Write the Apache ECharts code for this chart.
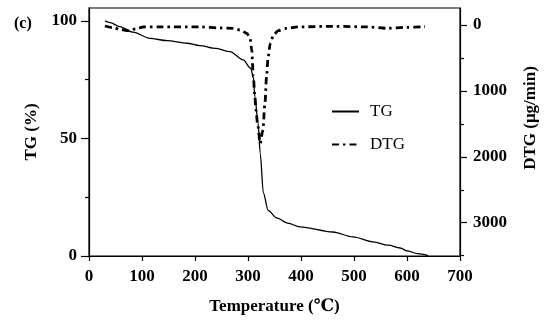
<!DOCTYPE html>
<html><head><meta charset="utf-8">
<script src="https://cdn.jsdelivr.net/npm/echarts@6/dist/echarts.min.js"></script>
<style>html,body{margin:0;padding:0;background:#fff}#c{width:550px;height:325px}</style>
</head><body><div id="c"></div>
<script>
const tgTemps  = [30,40,58,83,115,147,185,209,240,266,291,305,310,313,319,323,329,338,354,375,398,460,498,536,565,587,600,620,640];
const tgValues = [100,99.3,97.6,95.2,92.6,91.6,90.5,89.5,88.3,86.9,83.4,79.9,76.3,67.8,56.5,43.8,26.8,19.4,16.2,14.0,12.4,10.2,8.1,6.0,4.6,3.4,2.2,1.0,0.2];
const dtgTemps  = [30,45,60,74,90,102,134,209,247,272,285,298,304,307,310,313,315,318,323,328,332,335,338,342,348,357,373,394,460,525,562,600,634];
const dtgValues = [15,40,70,85,55,30,28,28,45,50,76,126,210,379,784,1088,1290,1491,1795,1600,1188,784,481,278,152,86,50,28,20,28,50,35,25];
const xTicks = [0,100,200,300,400,500,600,700];
const tgMajor = [0,50,100], tgMinor = [25,75];
const dtgMajor = [0,1000,2000,3000], dtgMinor = [500,1500,2500,3500];

const serif = '"Liberation Serif","DejaVu Serif",serif';
const chart = echarts.init(document.getElementById('c'));
const lab = {fontFamily: serif, fontWeight: 'bold', fontSize: 17, color: '#000', formatter: v => String(v)};
chart.setOption({
  animation: false,
  grid: {left: 89, right: 90, top: 8, bottom: 69, show: true, borderColor: '#000', borderWidth: 1.2},
  title: {text: '(c)', left: 9, top: 11, textStyle: {fontFamily: serif, fontWeight: 'bold', fontSize: 16, color: '#000'}},
  legend: {
    orient: 'vertical', left: 326, top: 98, itemWidth: 27, itemHeight: 14, itemGap: 16,
    itemStyle: {opacity: 0},
    textStyle: {fontFamily: serif, fontSize: 17, color: '#000', padding: [0,0,0,6]},
    data: ['TG','DTG']
  },
  xAxis: {
    type: 'value', min: 0, max: 700, interval: 100,
    name: 'Temperature (℃)', nameLocation: 'middle', nameGap: 42,
    nameTextStyle: {fontFamily: serif, fontWeight: 'bold', fontSize: 17, color: '#000'},
    axisLine: {lineStyle: {color: '#000', width: 1.2}},
    axisTick: {length: 5, lineStyle: {color: '#000', width: 1.2}},
    axisLabel: Object.assign({margin: 12, customValues: xTicks}, lab),
    splitLine: {show: false}
  },
  yAxis: [
    {
      type: 'value', position: 'left', min: 0, max: 105.5,
      name: 'TG (%)', nameLocation: 'middle', nameGap: 47, nameRotate: 90,
      nameTextStyle: {fontFamily: serif, fontWeight: 'bold', fontSize: 17, color: '#000'},
      axisLine: {show: true, lineStyle: {color: '#000', width: 1.2}},
      axisTick: {show: true, length: 8, customValues: tgMajor, lineStyle: {color: '#000', width: 1.2}},
      axisLabel: Object.assign({margin: 12, customValues: tgMajor}, lab),
      splitLine: {show: false}
    },
    {
      type: 'value', position: 'left', min: 0, max: 105.5,
      axisLine: {show: false},
      axisTick: {show: true, length: 4, customValues: tgMinor, lineStyle: {color: '#000', width: 1.2}},
      axisLabel: {show: false}, splitLine: {show: false}
    },
    {
      type: 'value', position: 'right', min: -258, max: 3505, inverse: true,
      name: 'DTG (μg/min)', nameLocation: 'middle', nameGap: 62, nameRotate: 90,
      nameTextStyle: {fontFamily: serif, fontWeight: 'bold', fontSize: 17, color: '#000', padding: [0,0,0,28]},
      axisLine: {show: true, lineStyle: {color: '#000', width: 1.2}},
      axisTick: {show: true, length: 7, customValues: dtgMajor, lineStyle: {color: '#000', width: 1.2}},
      axisLabel: Object.assign({margin: 13, customValues: dtgMajor}, lab),
      splitLine: {show: false}
    },
    {
      type: 'value', position: 'right', min: -258, max: 3505, inverse: true,
      axisLine: {show: false},
      axisTick: {show: true, length: 4, customValues: dtgMinor, lineStyle: {color: '#000', width: 1.2}},
      axisLabel: {show: false}, splitLine: {show: false}
    }
  ],
  series: [
    {
      name: 'TG', type: 'line', yAxisIndex: 0, showSymbol: false, symbol: 'none',
      smooth: 0.3, smoothMonotone: 'x',
      lineStyle: {color: '#000', width: 1.3},
      itemStyle: {color: '#000'},
      data: tgTemps.map((t, i) => [t, tgValues[i]])
    },
    {
      name: 'DTG', type: 'line', yAxisIndex: 2, showSymbol: false, symbol: 'none',
      smooth: 0.3, smoothMonotone: 'x',
      lineStyle: {color: '#000', width: 2.8, type: [7,4,2.5,4]},
      itemStyle: {color: '#000'},
      data: dtgTemps.map((t, i) => [t, dtgValues[i]])
    }
  ]
});
</script></body></html>
